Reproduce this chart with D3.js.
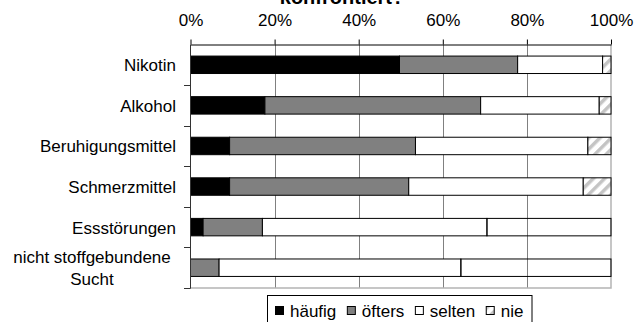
<!DOCTYPE html>
<html>
<head>
<meta charset="utf-8">
<script src="https://cdn.jsdelivr.net/npm/d3@7"></script>
<style>
    body { margin: 0; background: #fff; }
    text { font-family: "Liberation Sans", Arial, sans-serif; }
</style>
</head>
<body>
<svg id="chart" width="643" height="322"></svg>
<script>
// Daten
const categories = ["Nikotin", "Alkohol", "Beruhigungsmittel", "Schmerzmittel", "Essstörungen", "nicht stoffgebundene Sucht"];
const series = ["häufig", "öfters", "selten", "nie"];
const haeufig = [49.7, 17.7, 9.3, 9.3, 3.0, 0];
const oefters = [28.1, 51.3, 44.2, 42.6, 14.1, 6.8];
const selten  = [20.2, 28.2, 41.0, 41.5, 53.4, 57.5];
const nie     = [2.0, 2.8, 5.5, 6.6, 29.5, 35.7];
const tickValues = [0, 20, 40, 60, 80, 100];
const titleText = "konfrontiert?";
// bei diesen Kategorien ist "nie" ohne Muster
const nieOhneMuster = ["Essstörungen", "nicht stoffgebundene Sucht"];

const svg = d3.select("#chart");

// Muster fuer "nie"
const defs = svg.append("defs");
const pat = defs.append("pattern")
    .attr("id", "hatch")
    .attr("patternUnits", "userSpaceOnUse")
    .attr("width", 8)
    .attr("height", 8)
    .attr("patternTransform", "rotate(45)");
pat.append("rect").attr("width", 8).attr("height", 8).attr("fill", "#fff");
pat.append("rect").attr("width", 3.5).attr("height", 8).attr("fill", "#c4c4c4");

const colors = {
    "häufig": "#000",
    "öfters": "#808080",
    "selten": "#fff",
    "nie": "url(#hatch)"
};

const x = d3.scaleLinear().domain([0, 100]).range([190.5, 611]);
const y = d3.scaleBand()
    .domain(categories)
    .range([44.5, 288])
    .paddingInner(0.57)
    .paddingOuter(0.285);

// Tabelle fuer d3.stack
const rows = categories.map((c, i) => ({
    cat: c,
    "häufig": haeufig[i],
    "öfters": oefters[i],
    "selten": selten[i],
    "nie": nie[i]
}));
const stacked = d3.stack().keys(series)(rows);

// Gitterlinien
svg.append("g")
    .selectAll("line")
    .data(tickValues.slice(1, -1))
    .join("line")
    .attr("x1", d => Math.round(x(d)) + 0.5)
    .attr("x2", d => Math.round(x(d)) + 0.5)
    .attr("y1", 44.5)
    .attr("y2", 288)
    .attr("stroke", "#808080")
    .attr("stroke-width", 1);

// Rahmen rechts und unten
svg.append("path")
    .attr("d", `M${x(100)},44.5 V288 H${x(0)}`)
    .attr("fill", "none")
    .attr("stroke", "#b4b4b4")
    .attr("stroke-width", 1.5);

// Balken
svg.append("g")
    .selectAll("g")
    .data(stacked)
    .join("g")
    .each(function(s) {
        d3.select(this).selectAll("rect")
            .data(s.filter(d => d[1] - d[0] > 0))
            .join("rect")
            .attr("x", d => x(d[0]))
            .attr("y", d => y(d.data.cat))
            .attr("width", d => x(d[1]) - x(d[0]))
            .attr("height", y.bandwidth())
            .attr("fill", d => (s.key === "nie" && nieOhneMuster.includes(d.data.cat)) ? "none" : colors[s.key])
            .attr("stroke", "#000")
            .attr("stroke-width", 1);
    });

// Achse oben
const xAxis = d3.axisTop(x)
    .tickValues(tickValues)
    .tickFormat(d => d + "%")
    .tickSize(5)
    .tickSizeOuter(0)
    .tickPadding(14);

const gx = svg.append("g")
    .attr("transform", "translate(0,44.5)")
    .call(xAxis);
gx.select(".domain").attr("stroke", "#000");
gx.selectAll(".tick line").attr("stroke", "#000");
gx.selectAll(".tick text")
    .attr("font-size", 17)
    .attr("fill", "#000")
    .attr("font-family", "'Liberation Sans', Arial, sans-serif");

// Achse links (Striche an den Kategoriegrenzen)
const bounds = categories.map(c => y(c) + y.bandwidth() / 2 + y.step() / 2);
svg.append("line")
    .attr("x1", 190.5).attr("x2", 190.5)
    .attr("y1", 44.5).attr("y2", 288.5)
    .attr("stroke", "#333");
svg.append("g")
    .selectAll("line")
    .data(bounds)
    .join("line")
    .attr("x1", 184)
    .attr("x2", 190.5)
    .attr("y1", d => Math.round(d) + 0.5)
    .attr("y2", d => Math.round(d) + 0.5)
    .attr("stroke", "#333");

// Kategorie-Beschriftungen
svg.append("g")
    .selectAll("text")
    .data(categories)
    .join("text")
    .attr("font-size", 17)
    .attr("fill", "#000")
    .each(function(c) {
        const t = d3.select(this);
        const cy = y(c) + y.bandwidth() / 2;
        if (c === "nicht stoffgebundene Sucht") {
            t.attr("text-anchor", "middle");
            t.append("tspan").attr("x", 92).attr("y", cy - 5).text("nicht stoffgebundene");
            t.append("tspan").attr("x", 92).attr("y", cy + 17).text("Sucht");
        } else {
            t.attr("text-anchor", "end")
                .attr("x", 176)
                .attr("y", cy + 6.5)
                .text(c);
        }
    });

// Titel (nur unterer Teil sichtbar)
svg.append("text")
    .attr("x", 342)
    .attr("y", 4)
    .attr("text-anchor", "middle")
    .attr("font-size", 20)
    .attr("font-weight", "bold")
    .text(titleText);

// Legende
const legend = svg.append("g");
legend.append("rect")
    .attr("x", 267.5)
    .attr("y", 295.5)
    .attr("width", 264.5)
    .attr("height", 40)
    .attr("fill", "#fff")
    .attr("stroke", "#000");

let lx = 275;
series.forEach(s => {
    legend.append("rect")
        .attr("x", lx + 0.5)
        .attr("y", 306.5)
        .attr("width", 8)
        .attr("height", 8)
        .attr("fill", colors[s])
        .attr("stroke", "#000");
    const t = legend.append("text")
        .attr("x", lx + 15)
        .attr("y", 316.5)
        .attr("font-size", 17)
        .text(s);
    lx += 15 + t.node().getComputedTextLength() + 10.5;
});
</script>
</body>
</html>
